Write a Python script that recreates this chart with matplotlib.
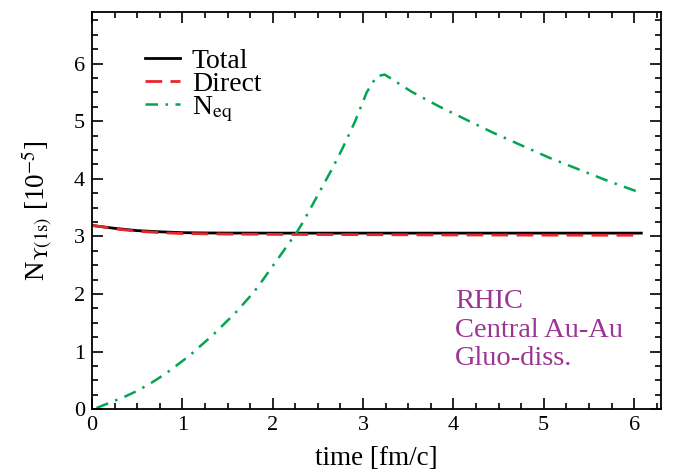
import matplotlib
matplotlib.use("Agg")
import matplotlib.pyplot as plt
from matplotlib.ticker import MultipleLocator

plt.rcParams['font.family'] = ['Liberation Serif', 'DejaVu Serif']
plt.rcParams['mathtext.fontset'] = 'stix'

# Data
t_total = [0.0, 0.1, 0.25, 0.5, 0.75, 1.0, 1.25, 1.5, 2.0, 3.0, 4.0, 5.0, 6.08]
n_total = [3.19, 3.17, 3.14, 3.10, 3.08, 3.065, 3.06, 3.058, 3.057, 3.057, 3.057, 3.057, 3.057]
t_direct = [0.0, 0.1, 0.25, 0.5, 0.75, 1.0, 1.25, 1.5, 2.0, 3.0, 4.0, 5.0, 6.08]
n_direct = [3.19, 3.17, 3.13, 3.09, 3.065, 3.05, 3.045, 3.04, 3.035, 3.03, 3.025, 3.022, 3.02]
t_eq = [0.05, 0.12, 0.34, 0.49, 0.64, 0.81, 0.92, 1.08, 1.18, 1.34, 1.43, 1.58, 1.66, 1.79,
        1.88, 1.97, 2.08, 2.17, 2.27, 2.34, 2.5, 2.67, 2.77, 2.91, 3.04, 3.15, 3.24,
        3.54, 3.85, 4.44, 5.07, 5.7, 6.05]
n_eq = [0.02, 0.064, 0.20, 0.31, 0.44, 0.61, 0.74, 0.93, 1.07, 1.29, 1.43, 1.66, 1.80, 2.03,
        2.22, 2.42, 2.66, 2.86, 3.08, 3.26, 3.72, 4.21, 4.52, 4.99, 5.5, 5.78, 5.81,
        5.51, 5.25, 4.80, 4.36, 3.97, 3.77]
info_lines = ['RHIC', 'Central Au-Au', 'Gluo-diss.']

fig = plt.figure(figsize=(6.74, 4.73), dpi=100)
ax = fig.add_axes([0.1365, 0.135, 0.981 - 0.1365, 0.975 - 0.135])

ax.plot(t_total, n_total, color='black', lw=2.0, label='Total')
ax.plot(t_direct, n_direct, color='#e8262b', lw=2.0, dashes=(6, 3), label='Direct')
ax.plot(t_eq, n_eq, color='#00a651', lw=1.8, dashes=(5, 3, 1, 3), label=r'N$_{\mathrm{eq}}$')

ax.set_xlim(0, 6.3)
ax.set_ylim(0, 6.9)
ax.xaxis.set_major_locator(MultipleLocator(1))
ax.xaxis.set_minor_locator(MultipleLocator(0.25))
ax.yaxis.set_major_locator(MultipleLocator(1))
ax.yaxis.set_minor_locator(MultipleLocator(0.25))
ax.tick_params(which='both', direction='in', top=True, right=True, labelsize=16, width=1.2)
ax.tick_params(which='major', length=8, pad=5)
ax.tick_params(which='minor', length=4)
for s in ax.spines.values():
    s.set_linewidth(1.3)

ax.set_xlabel('time [fm/c]', fontsize=19.5, labelpad=8)
ax.set_ylabel(r'N$_{\Upsilon\mathrm{(1s)}}$ [10$^{-5}$]', fontsize=19.5, labelpad=14)

leg = ax.legend(loc='upper left', bbox_to_anchor=(0.093, 0.907), frameon=False, fontsize=20,
                handlelength=1.26, handletextpad=0.43, labelspacing=-0.1,
                borderpad=0, borderaxespad=0)

for line, yb in zip(info_lines, [0.254, 0.181, 0.111]):
    ax.text(0.638, yb, line, transform=ax.transAxes, color='#9b3593', fontsize=20.5,
            va='baseline', ha='left')

fig.savefig('out.png', dpi=100)
